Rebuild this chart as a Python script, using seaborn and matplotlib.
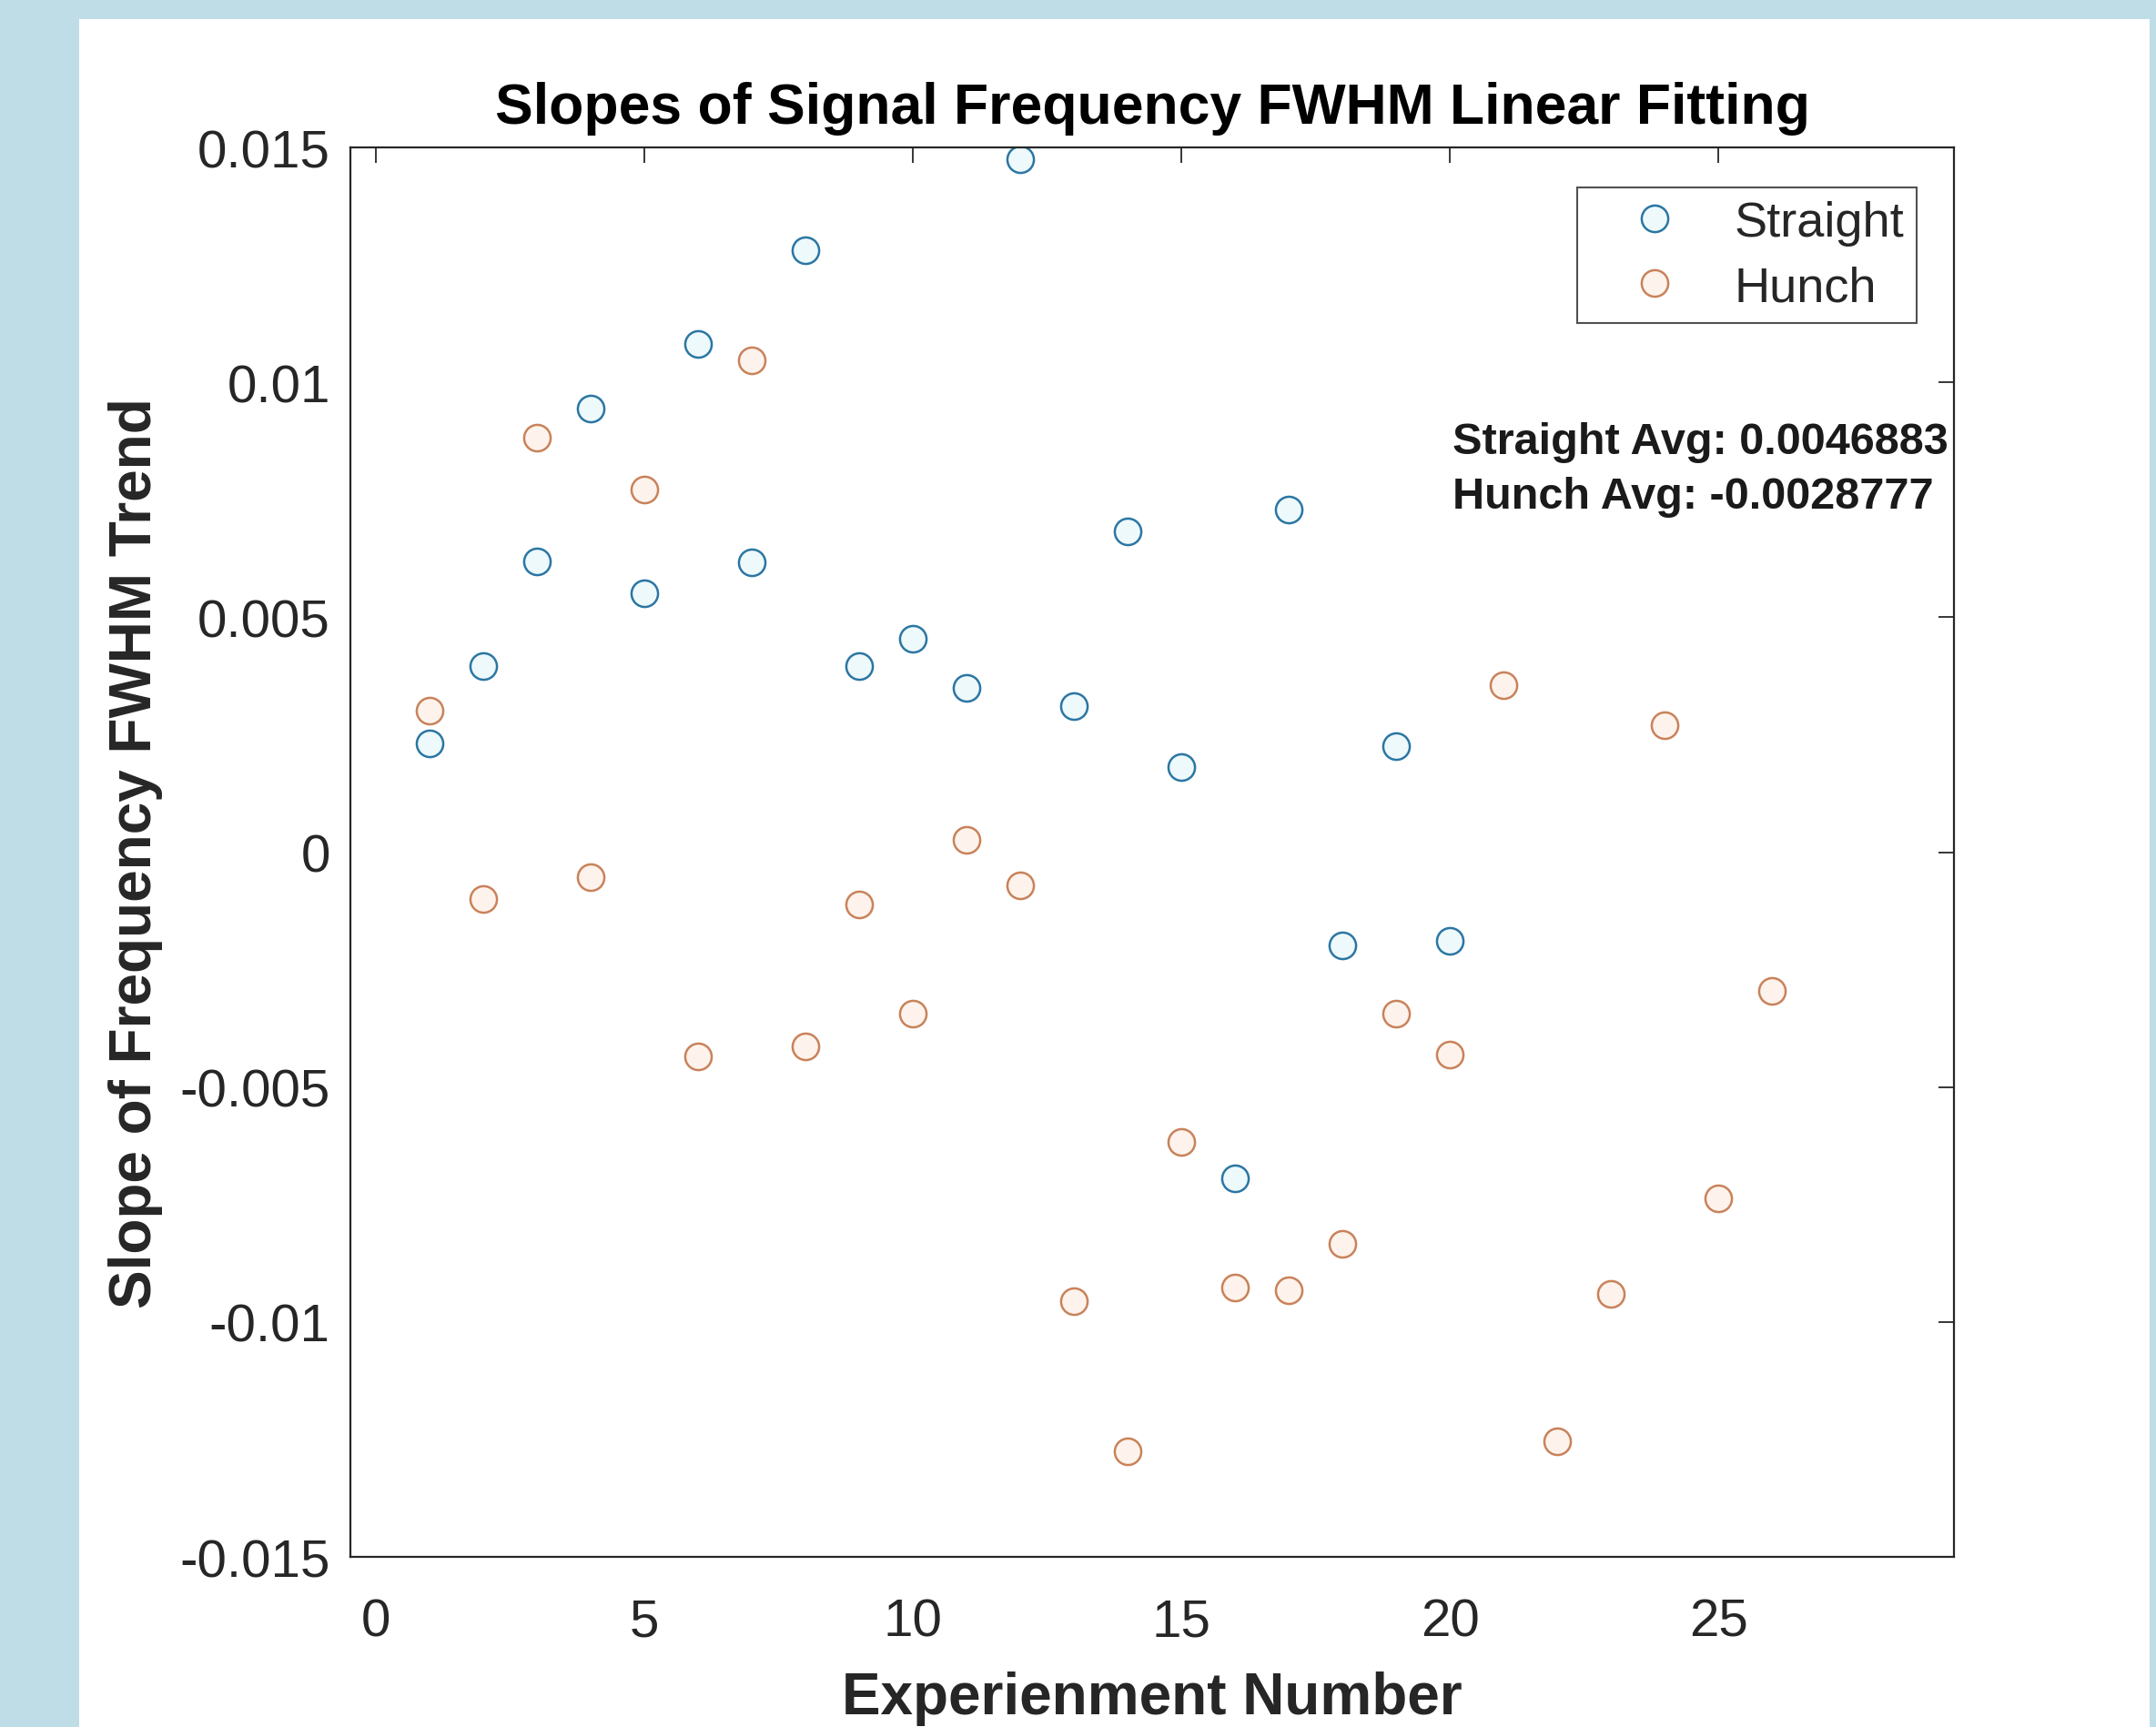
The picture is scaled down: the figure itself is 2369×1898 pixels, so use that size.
import matplotlib
matplotlib.use("Agg")
import matplotlib.pyplot as plt
from matplotlib.patches import Rectangle
from matplotlib.lines import Line2D
import seaborn as sns
import pandas as pd

# ---- data ----
straight_x = list(range(1, 21))
straight_y = [0.00232, 0.00396, 0.00619, 0.00944, 0.00551, 0.01082, 0.00616, 0.01282,
              0.00396, 0.00455, 0.00349, 0.01475, 0.00311, 0.00683, 0.00182, -0.00695,
              0.00730, -0.00199, 0.00226, -0.00188]
hunch_x = list(range(1, 27))
hunch_y = [0.00302, -0.00100, 0.00883, -0.00053, 0.00771, -0.00434, 0.01047, -0.00413,
           -0.00111, -0.00343, 0.00026, -0.00070, -0.00956, -0.01276, -0.00616, -0.00927,
           -0.00933, -0.00833, -0.00343, -0.00431, 0.00355, -0.01255, -0.00941, 0.00270,
           -0.00736, -0.00296]
series_names = ["Straight", "Hunch"]
xticks = [0, 5, 10, 15, 20, 25]
yticks = [0.015, 0.01, 0.005, 0, -0.005, -0.01, -0.015]
ytick_labels = ["0.015", "0.01", "0.005", "0", "-0.005", "-0.01", "-0.015"]
avg_lines = ["Straight Avg: 0.0046883", "Hunch Avg: -0.0028777"]
title = "Slopes of Signal Frequency FWHM Linear Fitting"
xlabel = "Experienment Number"
ylabel = "Slope of Frequency FWHM Trend"

edge_colors = {"Straight": "#2B76A3", "Hunch": "#C9825A"}
face_colors = {"Straight": "#EEF9FC", "Hunch": "#FDF3EC"}

df = pd.concat([
    pd.DataFrame({"x": straight_x, "y": straight_y, "series": "Straight"}),
    pd.DataFrame({"x": hunch_x, "y": hunch_y, "series": "Hunch"}),
], ignore_index=True)

sns.set_theme(style="white")
plt.rcParams["font.family"] = ["Liberation Sans", "DejaVu Sans"]

W, H = 2369, 1899
fig = plt.figure(figsize=(W / 100, H / 100), dpi=100, facecolor="#BFDDE6")
fig.patches.append(Rectangle((87 / W, 0), (2362 - 87) / W, 1 - 22 / H,
                             transform=fig.transFigure, facecolor="white",
                             edgecolor="none", zorder=-10))

ax_l, ax_r, ax_t, ax_b = 385, 2147, 163, 1712
ax = fig.add_axes([ax_l / W, 1 - ax_b / H, (ax_r - ax_l) / W, (ax_b - ax_t) / H])

for name in series_names:
    sub = df[df["series"] == name]
    sns.scatterplot(data=sub, x="x", y="y", ax=ax, s=440, marker="o", legend=False)
    coll = ax.collections[-1]
    coll.set_facecolor(face_colors[name])
    coll.set_edgecolor(edge_colors[name])
    coll.set_linewidth(1.8)

ax.set_xlim(-0.47, 29.38)
ax.set_ylim(-0.015, 0.015)
ax.set_xticks(xticks)
ax.set_xticklabels([str(t) for t in xticks])
ax.set_yticks(yticks)
ax.set_yticklabels(ytick_labels)

axc = "#262626"
for sp in ax.spines.values():
    sp.set_visible(True)
    sp.set_color(axc)
    sp.set_linewidth(1.6)
ax.tick_params(axis="both", which="both", direction="in", length=12, width=1.3,
               colors=axc, labelsize=42, top=True, right=True,
               labeltop=False, labelright=False)
ax.tick_params(axis="y", pad=16)
ax.tick_params(axis="x", pad=32)
ax.grid(False)

ax.set_title(title, fontsize=45, fontweight="bold", color="black", y=1.028, va="center", pad=0)
ax.set_xlabel(xlabel, fontsize=46, fontweight="bold", color=axc, va="center")
ax.xaxis.set_label_coords(0.5, -0.1)
ax.set_ylabel(ylabel, fontsize=46, fontweight="bold", color=axc, va="center")
ax.yaxis.set_label_coords(-0.134, 0.5)

handles = [Line2D([], [], linestyle="none", marker="o", markersize=21,
                  markerfacecolor=face_colors[n], markeredgecolor=edge_colors[n],
                  markeredgewidth=1.8, label=n) for n in series_names]
leg = ax.legend(handles=handles, loc="upper right", bbox_to_anchor=(0.9767, 0.9716),
                borderaxespad=0, fontsize=39, frameon=True, fancybox=False,
                edgecolor=axc, handlelength=2.63, handletextpad=0.31,
                borderpad=0.25, labelspacing=0.4)
leg.get_frame().set_linewidth(1.5)
for t in leg.get_texts():
    t.set_color(axc)

ax.text(20.05, 0.00815, "\n".join(avg_lines), fontsize=35, fontweight="bold",
        color="#1a1a1a", ha="left", va="center", linespacing=1.42)

fig.savefig("out.png", dpi=100, facecolor=fig.get_facecolor())
